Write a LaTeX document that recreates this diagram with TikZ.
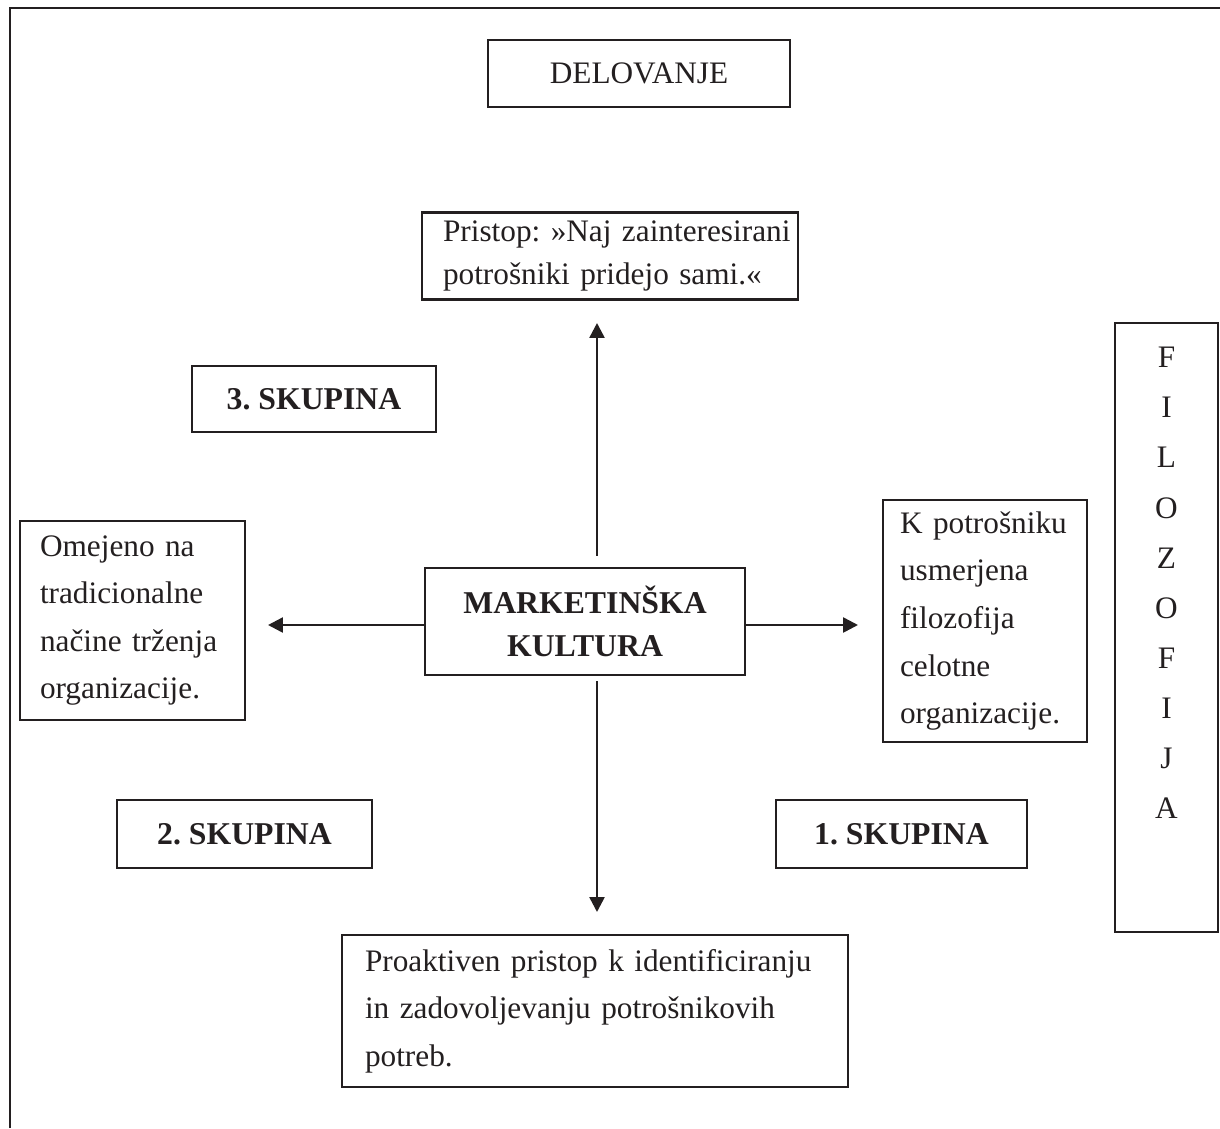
\documentclass[tikz,border=0pt]{standalone}
\usepackage{fontspec}
\setmainfont{Liberation Serif}
\usetikzlibrary{arrows.meta}
\definecolor{ink}{RGB}{35,31,32}
\frenchspacing
\begin{document}
\begin{tikzpicture}[x=0.4348pt,y=-0.4348pt,
  every node/.style={font=\fontsize{13.6}{20.7}\selectfont, text=ink},
  bx/.style 2 args={draw=ink, line width=0.9pt, minimum width=#1*0.4348pt,
    minimum height=#2*0.4348pt, inner sep=0pt},
  tbx/.style n args={3}{bx={#1}{#2}, inner xsep=#3*0.4348pt, align=left},
  hd/.style={font=\fontsize{13.8}{18.7}\selectfont\bfseries},
  arr/.style={draw=ink, line width=1.1pt, -{Triangle[length=6.5pt,width=6.5pt]}}
]
\useasboundingbox (0,0) rectangle (1220,1128);
% outer frame (top and left only)
\draw[ink, line width=1.3pt] (10,1128) -- (10,8) -- (1220,8);

\node[bx={302}{67}] (del) at (639,73.5) {DELOVANJE};
\node[tbx={376}{87}{21}, text width=334*0.4348pt,
      font=\fontsize{13.6}{18.6}\selectfont] (pri) at (610,256)
  {\mbox{Pristop: »Naj zainteresirani}\\\mbox{potrošniki pridejo sami.«}};
\node[bx={244}{66}, hd] (s3) at (314,399) {3. SKUPINA};
\node[tbx={225}{199}{20}, text width=185*0.4348pt] (ome) at (132.5,620.5)
  {\mbox{Omejeno na}\\\mbox{tradicionalne}\\\mbox{načine trženja}\\\mbox{organizacije.}};
\node[bx={320}{107}, hd, align=center] (mk) at (585,621.5)
  {MARKETINŠKA\\KULTURA};
\node[tbx={204}{242}{17}, text width=170*0.4348pt] (kp) at (985,621)
  {\mbox{K potrošniku}\\\mbox{usmerjena}\\\mbox{filozofija}\\\mbox{celotne}\\\mbox{organizacije.}};
\node[bx={103}{609}] (fil) at (1166.5,627.5) {};
\node[align=center, font=\fontsize{13.6}{21.8}\selectfont] (filt) at (1166.5,583)
  {F\\I\\L\\O\\Z\\O\\F\\I\\J\\A};
\node[bx={255}{68}, hd] (s2) at (244.5,834) {2. SKUPINA};
\node[bx={251}{68}, hd] (s1) at (901.5,834) {1. SKUPINA};
\node[tbx={506}{152}{23}, text width=460*0.4348pt] (pro) at (595,1011)
  {\mbox{Proaktiven pristop k identificiranju}\\\mbox{in zadovoljevanju potrošnikovih}\\\mbox{potreb.}};

% connectors
\coordinate (uE) at (597,323);
\coordinate (dE) at (597,912);
\coordinate (lE) at (268,625);
\coordinate (rE) at (858,625);
\draw[arr] ([yshift=4.8pt]mk.north -| uE) -- (uE);
\draw[arr] ([yshift=-2.2pt]mk.south -| dE) -- (dE);
\draw[arr] (mk.west |- lE) -- (lE);
\draw[arr] (mk.east |- rE) -- (rE);
\end{tikzpicture}
\end{document}
